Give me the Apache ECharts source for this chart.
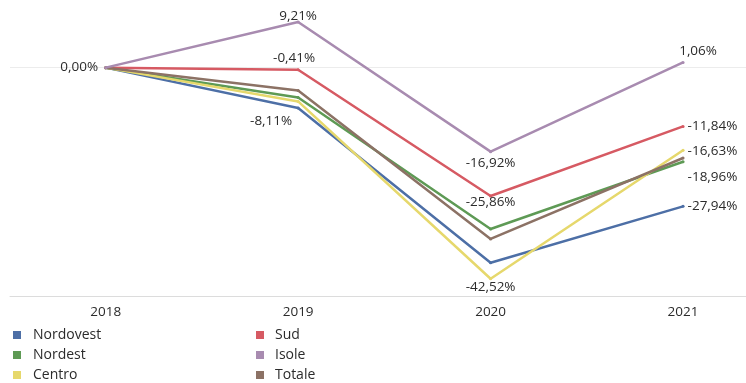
<!DOCTYPE html>
<html>
<head>
<meta charset="utf-8">
<script src="https://cdn.jsdelivr.net/npm/echarts@6/dist/echarts.min.js"></script>
<style>html,body{margin:0;padding:0;background:#fff;overflow:hidden;}#c{width:746px;height:383px;}</style>
</head>
<body>
<div id="c"></div>
<script>
var categories = ['2018', '2019', '2020', '2021'];
var seriesNames = ['Nordovest', 'Nordest', 'Centro', 'Sud', 'Isole', 'Totale'];
var nordovest = [0, -8.11, -39.3, -27.94];
var nordest = [0, -6.0, -32.5, -18.96];
var centro = [0, -6.8, -42.52, -16.63];
var sud = [0, -0.41, -25.86, -11.84];
var isole = [0, 9.21, -16.92, 1.06];
var totale = [0, -4.6, -34.5, -18.2];

var values = [nordovest, nordest, centro, sud, isole, totale];
var years = categories.map(Number);
var colors = ['#4d6fa6', '#5e9a55', '#e6d86c', '#d65a63', '#a88bb0', '#8c7265'];

// label placement (style only), keyed by series index -> point index
var labelSpec = {
  0: {1: {position: 'bottom', offset: [-27, 0]}, 3: {position: 'right', distance: 3}},
  1: {3: {position: 'right', distance: 3, offset: [0, 15]}},
  2: {2: {position: 'bottom', distance: 0}, 3: {position: 'right', distance: 3, offset: [0, 1]}},
  3: {1: {position: 'top', distance: 3, offset: [-4, 0]}, 2: {position: 'bottom', distance: -2}, 3: {position: 'right', distance: 3}},
  4: {0: {position: 'left', distance: 6}, 1: {position: 'top', distance: -3}, 2: {position: 'bottom', distance: 3}, 3: {position: 'top', distance: 3, offset: [15, 0]}}
};

function fmt(v) { return v.toFixed(2).replace('.', ',') + '%'; }

var labelFont = {color: '#2b2b2b', fontSize: 13.5, fontFamily: 'Open Sans'};

var series = values.map(function (arr, si) {
  var spec = labelSpec[si] || {};
  return {
    name: seriesNames[si],
    type: 'line',
    z: si === 4 ? 10 : 5,
    symbol: 'circle',
    symbolSize: 3,
    lineStyle: {width: 2.5, color: colors[si]},
    itemStyle: {color: colors[si]},
    emphasis: {disabled: true},
    data: arr.map(function (v, i) {
      var d = {value: [years[i], v]};
      if (spec[i]) {
        d.label = Object.assign({show: true, formatter: function (p) { return fmt(p.value[1]); }}, labelFont, spec[i]);
      }
      return d;
    }),
    markLine: si === 0 ? {
      silent: true, symbol: 'none', label: {show: false},
      lineStyle: {color: '#ececec', type: 'solid', width: 1},
      data: [{yAxis: 0}]
    } : undefined
  };
});

function legendCfg(names, left, pad) {
  return {
    data: names,
    orient: 'vertical', left: left, top: 328, padding: 0,
    icon: 'rect', itemWidth: 8, itemHeight: 8, itemGap: 6,
    textStyle: {color: '#2b2b2b', fontSize: 14, fontFamily: 'Open Sans', lineHeight: 14, padding: [0, 0, 0, pad]},
    selectedMode: false
  };
}

var chart = echarts.init(document.getElementById('c'));
chart.setOption({
  animation: false,
  color: colors,
  grid: {left: 10, right: -2, top: 18, bottom: 87},
  xAxis: {
    type: 'value',
    min: 2017.503,
    max: 2021.327,
    axisLine: {show: true, onZero: false, lineStyle: {color: '#dcdcdc'}},
    axisTick: {show: false},
    splitLine: {show: false},
    axisLabel: {color: '#2b2b2b', fontSize: 13.5, fontFamily: 'Open Sans', margin: 9,
      customValues: years, formatter: function (v) { return String(v); }}
  },
  yAxis: {
    type: 'value',
    min: -46,
    max: 10,
    show: false,
    splitLine: {show: false}
  },
  legend: [
    legendCfg(seriesNames.slice(0, 3), 13, 7),
    legendCfg(seriesNames.slice(3, 6), 256, 6)
  ],
  series: series
});
</script>
</body>
</html>
